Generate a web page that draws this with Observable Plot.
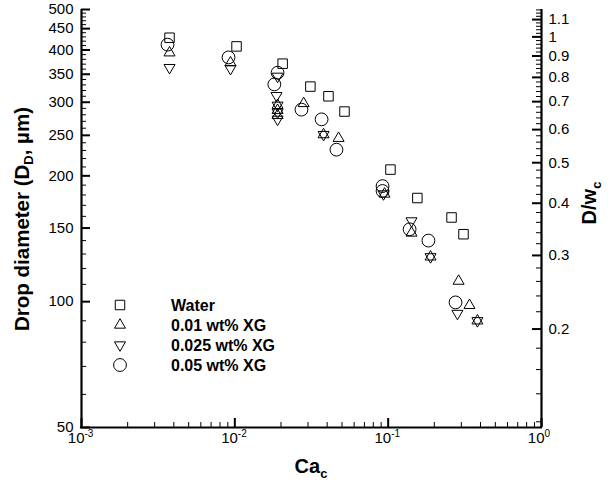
<!DOCTYPE html>
<html><head><meta charset="utf-8">
<script src="https://cdn.jsdelivr.net/npm/d3@7"></script>
<script src="https://cdn.jsdelivr.net/npm/@observablehq/plot@0.6"></script>
<style>
body{margin:0;background:#fff;}
#chart{width:616px;height:482px;}
svg{overflow:visible;}
</style>
</head><body><div id="chart"></div>
<script>
// ---- data ----
const caWater = [0.00375, 0.01026, 0.0205, 0.0311, 0.0408, 0.0519, 0.1035, 0.155, 0.259, 0.310];
const dWater  = [428, 408, 371, 327, 310, 285, 207, 177, 159, 145];

const caXG01 = [0.00375, 0.00937, 0.0190, 0.0190, 0.0190, 0.0281, 0.0379, 0.0475, 0.0947, 0.142, 0.189, 0.288, 0.339, 0.382];
const dXG01  = [394, 373, 295, 287, 279, 298, 251, 246, 181, 146, 128, 112, 98, 90];

const caXG025 = [0.00375, 0.00937, 0.0190, 0.0187, 0.0190, 0.0190, 0.0190, 0.0379, 0.0932, 0.142, 0.189, 0.283, 0.382];
const dXG025  = [363, 361, 346, 311, 295, 284, 273, 251, 181, 156, 128, 93.7, 90];

const caXG05 = [0.00364, 0.0091, 0.0190, 0.0181, 0.0272, 0.0368, 0.0460, 0.0919, 0.0919, 0.138, 0.183, 0.275];
const dXG05  = [412, 384, 353, 331, 288, 273, 231, 189, 184, 149, 140, 99.6];

const seriesNames = ["Water", "0.01 wt% XG", "0.025 wt% XG", "0.05 wt% XG"];

// axis ticks
const xMajor = [0.001, 0.01, 0.1, 1];
const xMinor = [2,3,4,5,6,7,8,9].flatMap(m => [0.001, 0.01, 0.1].map(d => m * d));
const yMajor = [50,100,150,200,250,300,350,400,450,500];
const yMinor = d3.range(60, 500, 10).filter(v => v % 50 !== 0);
const WC = 430; // channel width, um (D/w_c right axis)
const rMajor = [0.2,0.3,0.4,0.5,0.6,0.7,0.8,0.9,1,1.1];
const rMinor = d3.range(12, 117, 2).map(v => v / 100).filter(v => !rMajor.some(m => Math.abs(m - v) < 1e-9));

// ---- layout ----
const W = 616, H = 482, ML = 81, MR = 75, MT = 9, MB = 55;
const PW = W - ML - MR, PH = H - MT - MB;
const FONT = "'Liberation Sans', Arial, Helvetica, sans-serif";

const table = (cas, ds) => cas.map((c, i) => ({ca: c, d: ds[i]}));

const symSquare = {draw(ctx, size){ const r = Math.sqrt(size/Math.PI), h = r*0.74;
  ctx.moveTo(-h,-h); ctx.lineTo(h,-h); ctx.lineTo(h,h); ctx.lineTo(-h,h); ctx.closePath(); }};
const symUp = {draw(ctx, size){ const r = Math.sqrt(size/Math.PI), w = r*0.86, t = r*1.48;
  ctx.moveTo(0,-t*2/3); ctx.lineTo(w,t/3); ctx.lineTo(-w,t/3); ctx.closePath(); }};
const symDown = {draw(ctx, size){ const r = Math.sqrt(size/Math.PI), w = r*0.86, t = r*1.48;
  ctx.moveTo(0,t*2/3); ctx.lineTo(w,-t/3); ctx.lineTo(-w,-t/3); ctx.closePath(); }};
const symCircle = d3.symbolCircle;
const symbols = [symSquare, symUp, symDown, symCircle];
const R = 6.4;

const dotOpts = sym => ({x: "ca", y: "d", symbol: sym, r: R, stroke: "black", strokeWidth: 1, fill: "none"});
const fmtR = d => String(+(d / WC).toFixed(2));

const chart = Plot.plot({
  width: W, height: H,
  marginLeft: ML, marginRight: MR, marginTop: MT, marginBottom: MB,
  style: {fontFamily: FONT, fontSize: "15px", color: "#000", background: "#fff"},
  x: {type: "log", domain: [1e-3, 1], axis: null},
  y: {type: "log", domain: [50, 500]},
  marks: [
    // left axis
    Plot.tickY(yMinor, {y: d => d, insetRight: PW - 5, strokeWidth: 1}),
    Plot.tickY(yMajor, {y: d => d, insetRight: PW - 9, strokeWidth: 2}),
    Plot.axisY(yMajor, {anchor: "left", tickSize: 0, tickPadding: 8, tickFormat: d => String(d), label: null, fontSize: 15}),
    // right axis (D / w_c)
    Plot.tickY(rMinor.map(v => v * WC), {y: d => d, insetLeft: PW - 5, strokeWidth: 1}),
    Plot.tickY(rMajor.map(v => v * WC), {y: d => d, insetLeft: PW - 9, strokeWidth: 2}),
    Plot.axisY(rMajor.map(v => v * WC), {anchor: "right", tickSize: 0, tickPadding: 7, tickFormat: fmtR, label: null, fontSize: 15}),
    // bottom axis
    Plot.tickX(xMinor, {x: d => d, insetTop: PH - 5, strokeWidth: 1}),
    Plot.tickX(xMajor, {x: d => d, insetTop: PH - 9, strokeWidth: 2}),
    Plot.text(xMajor, {x: d => d, frameAnchor: "bottom", dy: 15, dx: 3, text: () => "10", textAnchor: "end", fontSize: 15}),
    Plot.text(xMajor, {x: d => d, frameAnchor: "bottom", dy: 9, dx: 3, text: d => String(Math.round(Math.log10(d))), textAnchor: "start", fontSize: 10}),
    // frame lines (no top)
    Plot.ruleX([1e-3, 1], {strokeWidth: 2.2}),
    Plot.ruleY([50], {strokeWidth: 2.2, strokeLinecap: "square"}),
    // data
    Plot.dot(table(caWater, dWater), dotOpts(symSquare)),
    Plot.dot(table(caXG01, dXG01), dotOpts(symUp)),
    Plot.dot(table(caXG025, dXG025), dotOpts(symDown)),
    Plot.dot(table(caXG05, dXG05), dotOpts(symCircle))
  ]
});

const svg = d3.select(chart);
// titles
const left = svg.append("text")
  .attr("transform", "translate(29,219) rotate(-90)")
  .attr("text-anchor", "middle").attr("font-family", FONT).attr("font-weight", "bold").attr("font-size", 20.5).attr("fill", "#000");
left.append("tspan").text("Drop diameter (D");
left.append("tspan").attr("font-size", 13).attr("dy", 4).text("D");
left.append("tspan").attr("dy", -4).text(", \u00b5m)");

const bottom = svg.append("text")
  .attr("x", 311).attr("y", 473)
  .attr("text-anchor", "middle").attr("font-family", FONT).attr("font-weight", "bold").attr("font-size", 20).attr("fill", "#000");
bottom.append("tspan").text("Ca");
bottom.append("tspan").attr("font-size", 13).attr("dy", 5).text("c");

const right = svg.append("text")
  .attr("transform", "translate(596,203) rotate(-90)")
  .attr("text-anchor", "middle").attr("font-family", FONT).attr("font-weight", "bold").attr("font-size", 20).attr("fill", "#000");
right.append("tspan").text("D/w");
right.append("tspan").attr("font-size", 13).attr("dy", 5).text("c");

// legend
const lg = svg.append("g").attr("font-family", FONT);
seriesNames.forEach((name, i) => {
  const y = 305 + i * 20;
  lg.append("path").attr("d", d3.symbol(symbols[i], Math.PI * R * R)())
    .attr("transform", `translate(120,${y})`).attr("fill", "none").attr("stroke", "black").attr("stroke-width", 1);
  lg.append("text").attr("x", 171).attr("y", y).attr("dy", "0.35em").attr("text-anchor", "start")
    .attr("font-weight", "bold").attr("font-size", 16).attr("fill", "#000").text(name);
});

document.getElementById("chart").append(chart);
</script>
</body></html>
